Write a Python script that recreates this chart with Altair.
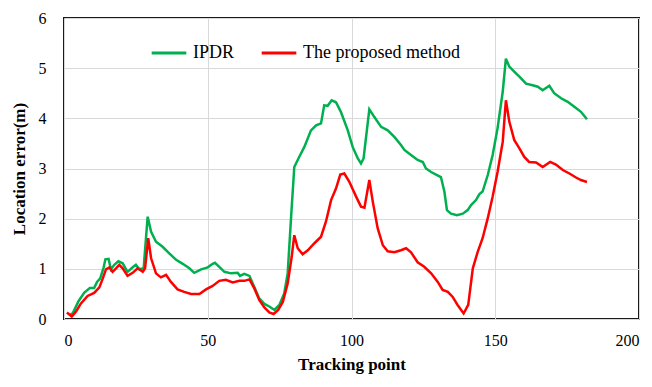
import altair as alt
import pandas as pd

# ---- data ----
ipdr_x = [2, 3, 5, 7, 9, 10.5, 11.5, 12.6, 13.8, 14.4, 15.5, 16.3, 17.5, 18.9, 20.4, 22.1, 23.9, 25,
          26.2, 27.7, 29.1, 30.3, 32, 34.3, 36.6, 39, 41.3, 43.6, 45.3, 47.7, 50, 51.7, 52.5, 54,
          55.8, 58.1, 60.4, 61.2, 62.7, 64.5, 66.2, 67.9, 69.7, 71.4, 73.2, 74.9, 76.6, 77.8, 79,
          80.1, 81.8, 83.6, 85.9, 87.7, 89.4, 90.5, 91.7, 93.1, 94.6, 96.3, 98.7, 100.4, 102.2,
          103.3, 104.2, 106.2, 107.9, 110.3, 112.6, 114.9, 117.2, 118.4, 120.7, 123, 124.8, 125.9,
          127.7, 129.4, 131.1, 132.3, 133.2, 134.6, 136.7, 138.7, 140.4, 141.6, 143.3, 144.5,
          145.6, 147.4, 149.1, 150.8, 152.6, 153.7, 154.9, 156.6, 158.4, 160.7, 163, 164.8, 166.5,
          168.8, 170.5, 172.9, 175.2, 177.5, 179.8, 181.9]
ipdr_y = [0.08, 0.11, 0.35, 0.52, 0.62, 0.62, 0.74, 0.81, 1.03, 1.19, 1.20, 0.99, 1.08, 1.15, 1.11,
          0.94, 1.03, 1.08, 0.99, 1.01, 2.04, 1.74, 1.54, 1.44, 1.31, 1.18, 1.10, 1.01, 0.92, 0.99,
          1.03, 1.10, 1.12, 1.04, 0.94, 0.91, 0.92, 0.86, 0.90, 0.86, 0.64, 0.41, 0.30, 0.25, 0.18,
          0.28, 0.51, 0.91, 2.04, 3.03, 3.23, 3.43, 3.76, 3.86, 3.90, 4.26, 4.25, 4.36, 4.32, 4.13,
          3.76, 3.43, 3.20, 3.10, 3.20, 4.18, 4.03, 3.83, 3.76, 3.63, 3.47, 3.37, 3.27, 3.17, 3.13,
          3.00, 2.93, 2.88, 2.83, 2.54, 2.17, 2.10, 2.07, 2.10, 2.17, 2.27, 2.37, 2.49, 2.54, 2.87,
          3.27, 3.80, 4.53, 5.19, 5.03, 4.93, 4.83, 4.69, 4.66, 4.63, 4.56, 4.65, 4.50, 4.40, 4.33,
          4.23, 4.13, 3.98]

prop_x = [1, 2.7, 4.2, 5.9, 8.2, 10.5, 12.3, 13.5, 14.6, 15.8, 16.9, 18.1, 19.2, 20.4, 22.1, 23.9,
          25.6, 27.4, 28.2, 29.3, 30.3, 32, 33.7, 35.5, 37.2, 39.5, 41.8, 44.2, 47.1, 49.4, 51.7, 54,
          56.3, 58.7, 61, 62.7, 64.5, 66.2, 67.9, 69.7, 71.4, 72.9, 74.5, 76.1, 77.8, 79.2, 80.1,
          81.3, 83, 84.8, 87.1, 89.4, 91.1, 92.9, 94.6, 96.1, 97.5, 99.2, 101.6, 103.3, 104.5,
          106.2, 107.4, 109.1, 110.9, 112.6, 114.9, 117.2, 119, 120.7, 123, 125.3, 127.7, 130,
          131.7, 133.5, 135.2, 136.9, 139, 140.6, 142.2, 143.9, 145.6, 147.4, 149.1, 150.8, 152.6,
          153.7, 154.9, 156.6, 158.4, 160.1, 161.8, 164.2, 166.5, 169.1, 171.1, 173.5, 175.8,
          178.1, 179.8, 181.9]
prop_y = [0.13, 0.05, 0.15, 0.31, 0.46, 0.52, 0.63, 0.81, 0.99, 1.03, 0.94, 1.01, 1.08, 1.01, 0.86,
          0.92, 1.01, 0.94, 1.01, 1.61, 1.21, 0.91, 0.83, 0.88, 0.74, 0.59, 0.54, 0.50, 0.50, 0.59,
          0.66, 0.76, 0.78, 0.73, 0.76, 0.76, 0.79, 0.61, 0.38, 0.23, 0.13, 0.10, 0.18, 0.34, 0.71,
          1.24, 1.67, 1.41, 1.29, 1.37, 1.51, 1.64, 1.94, 2.37, 2.60, 2.88, 2.90, 2.74, 2.44, 2.24,
          2.22, 2.77, 2.34, 1.81, 1.47, 1.35, 1.33, 1.37, 1.41, 1.33, 1.13, 1.04, 0.91, 0.74, 0.58,
          0.54, 0.44, 0.28, 0.11, 0.28, 1.01, 1.34, 1.61, 2.01, 2.44, 2.93, 3.53, 4.36, 3.93, 3.57,
          3.40, 3.23, 3.13, 3.12, 3.03, 3.13, 3.08, 2.97, 2.90, 2.82, 2.77, 2.73]

series_names = ["IPDR", "The proposed method"]
series_colors = ["#00B050", "#FF0000"]
x_ticks = [0, 50, 100, 150, 200]
y_ticks = [0, 1, 2, 3, 4, 5, 6]

df = pd.concat([
    pd.DataFrame({"point": ipdr_x, "error": ipdr_y, "series": series_names[0]}),
    pd.DataFrame({"point": prop_x, "error": prop_y, "series": series_names[1]}),
], ignore_index=True)

FONT = "Liberation Serif"

lines = alt.Chart(df).mark_line(strokeWidth=2.5).encode(
    x=alt.X("point:Q",
            scale=alt.Scale(domain=[0, 200], nice=False),
            axis=alt.Axis(values=x_ticks, title="Tracking point", grid=True,
                          gridColor="#d9d9d9", gridWidth=1, domain=False, ticks=False,
                          labelFont=FONT, labelFontSize=16, labelColor="black",
                          labelPadding=13,
                          titleFont=FONT, titleFontSize=17, titleFontWeight="bold",
                          titleColor="black", titlePadding=8)),
    y=alt.Y("error:Q",
            scale=alt.Scale(domain=[0, 6], nice=False),
            axis=alt.Axis(values=y_ticks, title="Location error(m)", grid=True,
                          gridColor="#d9d9d9", gridWidth=1, domain=False, ticks=False,
                          labelFont=FONT, labelFontSize=16, labelColor="black",
                          labelPadding=18,
                          titleFont=FONT, titleFontSize=17, titleFontWeight="bold",
                          titleColor="black", titlePadding=10)),
    color=alt.Color("series:N",
                    scale=alt.Scale(domain=series_names, range=series_colors),
                    legend=alt.Legend(title=None, orient="none", direction="horizontal",
                                      legendX=86, legendY=16, symbolType="stroke",
                                      symbolSize=1200, symbolStrokeWidth=3,
                                      labelFont=FONT, labelFontSize=18, labelColor="black",
                                      columnPadding=20, labelOffset=5, padding=0)),
)

chart = alt.layer(lines).properties(
    width=575,
    height=301,
    padding={"left": 10, "top": 10, "right": 5, "bottom": 5},
).configure_view(
    stroke="#1a1a1a",
    strokeWidth=2,
)

chart.save("out.html", embed_options={"renderer": "svg", "actions": False})
